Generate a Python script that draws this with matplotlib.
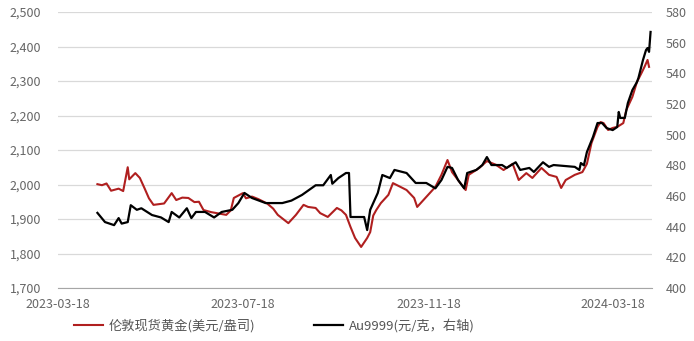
import pandas as pd
import matplotlib
matplotlib.use("Agg")
import matplotlib.pyplot as plt
import matplotlib.dates as mdates
from matplotlib.ticker import FuncFormatter, MultipleLocator

plt.rcParams['font.family'] = ['Noto Sans CJK SC', 'DejaVu Sans']

# --- data ---
gold_dates = ["2023-04-13", "2023-04-16", "2023-04-19", "2023-04-22", "2023-04-27", "2023-04-30",
              "2023-05-03", "2023-05-04", "2023-05-08", "2023-05-11", "2023-05-14", "2023-05-17",
              "2023-05-20", "2023-05-27", "2023-06-01", "2023-06-04", "2023-06-08", "2023-06-12",
              "2023-06-16", "2023-06-19", "2023-06-22", "2023-06-27", "2023-07-02", "2023-07-07",
              "2023-07-10", "2023-07-12", "2023-07-18", "2023-07-20", "2023-07-24", "2023-07-28",
              "2023-08-03", "2023-08-07", "2023-08-10", "2023-08-17", "2023-08-22", "2023-08-27",
              "2023-08-30", "2023-09-04", "2023-09-07", "2023-09-12", "2023-09-18", "2023-09-21",
              "2023-09-24", "2023-09-27", "2023-09-30", "2023-10-04", "2023-10-08", "2023-10-10",
              "2023-10-12", "2023-10-14", "2023-10-17", "2023-10-22", "2023-10-25", "2023-10-30",
              "2023-11-03", "2023-11-08", "2023-11-10", "2023-11-16", "2023-11-22", "2023-11-26",
              "2023-11-30", "2023-12-03", "2023-12-08", "2023-12-12", "2023-12-14", "2023-12-21",
              "2023-12-26", "2024-01-01", "2024-01-06", "2024-01-12", "2024-01-16", "2024-01-21",
              "2024-01-25", "2024-01-31", "2024-02-05", "2024-02-10", "2024-02-13", "2024-02-16",
              "2024-02-22", "2024-02-27", "2024-03-01", "2024-03-04", "2024-03-08", "2024-03-10",
              "2024-03-12", "2024-03-15", "2024-03-18", "2024-03-21", "2024-03-25", "2024-03-27",
              "2024-03-31", "2024-04-03", "2024-04-06", "2024-04-08", "2024-04-10", "2024-04-11"]
gold_usd = [2001, 1998, 2003, 1982, 1988, 1981,
            2050, 2015, 2033, 2019, 1990, 1960,
            1941, 1945, 1975, 1955, 1962, 1961,
            1949, 1950, 1926, 1920, 1916, 1912,
            1925, 1961, 1975, 1960, 1965, 1958,
            1945, 1930, 1912, 1888, 1912, 1941,
            1935, 1932, 1917, 1906, 1932, 1925,
            1912, 1877, 1845, 1819, 1845, 1862,
            1910, 1926, 1946, 1970, 2004, 1993,
            1984, 1961, 1935, 1964, 1993, 2028,
            2071, 2036, 2007, 1984, 2028, 2048,
            2068, 2057, 2042, 2060, 2013, 2033,
            2019, 2048, 2028, 2022, 1990, 2013,
            2028, 2036, 2060, 2120, 2167, 2181,
            2178, 2158, 2164, 2167, 2178, 2216,
            2254, 2297, 2323, 2341, 2361, 2341]

au_dates = ["2023-04-13", "2023-04-18", "2023-04-24", "2023-04-27", "2023-04-29", "2023-05-03",
            "2023-05-05", "2023-05-09", "2023-05-12", "2023-05-19", "2023-05-25", "2023-05-30",
            "2023-06-01", "2023-06-06", "2023-06-11", "2023-06-14", "2023-06-17", "2023-06-23",
            "2023-06-29", "2023-07-04", "2023-07-11", "2023-07-15", "2023-07-19", "2023-07-24",
            "2023-08-02", "2023-08-13", "2023-08-19", "2023-08-26", "2023-09-04", "2023-09-09",
            "2023-09-14", "2023-09-15", "2023-09-19", "2023-09-24", "2023-09-26", "2023-09-27",
            "2023-10-06", "2023-10-08", "2023-10-10", "2023-10-15", "2023-10-18", "2023-10-23",
            "2023-10-26", "2023-11-03", "2023-11-09", "2023-11-16", "2023-11-22", "2023-11-26",
            "2023-11-30", "2023-12-03", "2023-12-07", "2023-12-11", "2023-12-13", "2023-12-19",
            "2023-12-23", "2023-12-26", "2023-12-29", "2024-01-05", "2024-01-08", "2024-01-14",
            "2024-01-17", "2024-01-23", "2024-01-26", "2024-02-01", "2024-02-05", "2024-02-08",
            "2024-02-22", "2024-02-25", "2024-02-26", "2024-02-28", "2024-03-01", "2024-03-05",
            "2024-03-08", "2024-03-11", "2024-03-14", "2024-03-18", "2024-03-21", "2024-03-22",
            "2024-03-23", "2024-03-26", "2024-03-28", "2024-03-31", "2024-04-03", "2024-04-04",
            "2024-04-07", "2024-04-09", "2024-04-10", "2024-04-11", "2024-04-12"]
au_cny = [449.0, 443.0, 441.0, 445.6, 442.0, 443.0,
          454.0, 451.0, 452.0, 447.6, 446.0, 443.0,
          449.6, 446.0, 452.0, 445.6, 449.6, 449.6,
          446.0, 449.6, 451.0, 455.4, 462.0, 458.7,
          455.4, 455.4, 457.0, 460.7, 467.0, 467.0,
          473.7, 468.0, 471.7, 475.0, 475.0, 446.3,
          446.3, 437.8, 451.0, 462.0, 473.7, 471.7,
          477.0, 475.0, 468.5, 468.5, 465.0, 470.4,
          479.0, 478.3, 470.4, 465.0, 475.0, 477.0,
          480.2, 485.4, 480.2, 480.2, 478.3, 482.0,
          477.0, 478.3, 475.7, 482.0, 479.0, 480.2,
          479.0, 477.0, 481.5, 480.0, 488.7, 498.5,
          507.6, 507.6, 504.3, 503.0, 505.0, 514.8,
          510.9, 510.9, 520.6, 529.1, 534.3, 537.0,
          548.7, 555.2, 556.5, 554.0, 567.0]

x_ticks = ["2023-03-18", "2023-07-18", "2023-11-18", "2024-03-18"]

gold_label = "伦敦现货黄金(美元/盎司)"
au_label = "Au9999(元/克，右轴)"

# --- plot ---
fig = plt.figure(figsize=(6.94, 3.41), dpi=100)
ax = fig.add_axes([0.0836, 0.1554, 0.856, 0.8094])
ax2 = ax.twinx()

l1, = ax.plot(pd.to_datetime(gold_dates), gold_usd, color="#B01F1F", lw=1.5, label=gold_label)
l2, = ax2.plot(pd.to_datetime(au_dates), au_cny, color="black", lw=1.6, label=au_label)

ax.set_xlim(pd.Timestamp("2023-03-18"), pd.Timestamp("2024-04-13"))
ax.set_ylim(1700, 2500)
ax2.set_ylim(400, 580)
ax.yaxis.set_major_locator(MultipleLocator(100))
ax2.yaxis.set_major_locator(MultipleLocator(20))
ax.yaxis.set_major_formatter(FuncFormatter(lambda v, p: f"{v:,.0f}"))

ax.set_xticks(pd.to_datetime(x_ticks))
ax.xaxis.set_major_formatter(mdates.DateFormatter("%Y-%m-%d"))

ax.grid(axis="y", color="#d9d9d9", lw=0.9)
ax.set_axisbelow(True)
for a in (ax, ax2):
    for s in ("top", "left", "right"):
        a.spines[s].set_visible(False)
    a.spines["bottom"].set_visible(False)
    a.tick_params(length=0, labelsize=9, colors="#666666")
ax.spines["bottom"].set_visible(True)
ax.spines["bottom"].set_color("#a6a6a6")
ax.tick_params(axis="y", pad=12)
ax.tick_params(axis="x", pad=7)
ax2.tick_params(axis="y", pad=10)

fig.legend(handles=[l1, l2], loc="center", bbox_to_anchor=(0.395, 0.045), ncol=2,
           frameon=False, fontsize=9.5, handlelength=2.2, columnspacing=4.5,
           handletextpad=0.4, labelcolor="#555555")

fig.savefig("out.png", dpi=100)
plt.close()
